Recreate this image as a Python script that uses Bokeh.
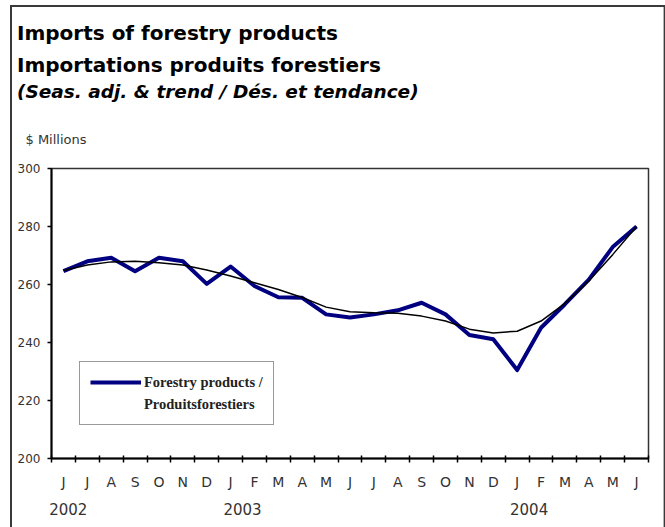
from bokeh.plotting import figure
from bokeh.models import Range1d, FixedTicker, LinearAxis, Legend, LegendItem, Title
from bokeh.embed import file_html
from bokeh.resources import INLINE

# ---- data ----
months = ["J", "J", "A", "S", "O", "N", "D", "J", "F", "M", "A", "M",
          "J", "J", "A", "S", "O", "N", "D", "J", "F", "M", "A", "M", "J"]
forestry = [264.6, 268.0, 269.2, 264.6, 269.2, 268.0, 260.2, 266.2, 259.5,
            255.6, 255.4, 249.7, 248.6, 249.7, 251.1, 253.7, 249.7, 242.6,
            241.1, 230.5, 245.1, 253.2, 261.7, 272.9, 280.0]
trend = [264.8, 266.7, 267.8, 268.0, 267.5, 266.7, 265.0, 262.9, 260.6,
         258.3, 255.5, 252.2, 250.6, 250.3, 250.1, 249.1, 247.4, 244.6,
         243.3, 243.9, 247.4, 253.5, 261.2, 270.3, 280.0]
years = ["2002", "2003", "2004"]
year_pos = [0.2, 7.5, 19.5]
y_ticks = [200, 220, 240, 260, 280, 300]

idx = list(range(len(months)))
n = len(months)

W, H = 652, 520
p = figure(width=W, height=H, output_backend="svg", toolbar_location=None,
           x_range=Range1d(-0.5, n - 0.5), y_range=Range1d(200, 300),
           x_axis_type=None, y_axis_type=None,
           min_border_left=39, min_border_right=16,
           min_border_top=0, min_border_bottom=69)
p.styles = {"margin-top": "7px", "margin-left": "12px",
            "border-right": "1px solid #b4b4b4",
            "outline": "2px solid #3a3a3a", "outline-offset": "0px"}
p.background_fill_color = "white"
p.border_fill_color = "white"
p.outline_line_color = "#333333"
p.outline_line_width = 1.5

# axes
ya = LinearAxis(ticker=FixedTicker(ticks=y_ticks),
                axis_line_color="black", axis_line_width=2,
                major_tick_out=4, major_tick_in=0, major_tick_line_width=1.5,
                minor_tick_out=0, minor_tick_in=0,
                major_label_text_font="DejaVu Sans",
                major_label_text_font_size="12px",
                major_label_text_color="#333333",
                major_label_standoff=7)
p.add_layout(ya, "left")

xa = LinearAxis(ticker=FixedTicker(ticks=idx,
                                   minor_ticks=[i - 0.5 for i in range(n + 1)]),
                major_label_overrides={i: m for i, m in zip(idx, months)},
                axis_line_color="black", axis_line_width=2,
                major_tick_line_color=None, major_tick_out=0, major_tick_in=0,
                minor_tick_line_color="black", minor_tick_line_width=1.5,
                minor_tick_in=3, minor_tick_out=4,
                major_label_text_font="DejaVu Sans",
                major_label_text_font_size="14px",
                major_label_text_color="#333333",
                major_label_standoff=11)
p.add_layout(xa, "below")

yra = LinearAxis(ticker=FixedTicker(ticks=year_pos),
                 major_label_overrides={pos: y for pos, y in zip(year_pos, years)},
                 axis_line_color=None, major_tick_line_color=None,
                 minor_tick_line_color=None, major_tick_out=0, major_tick_in=0,
                 minor_tick_out=0, minor_tick_in=0,
                 major_label_text_font="DejaVu Sans",
                 major_label_text_font_size="15px",
                 major_label_text_color="#333333",
                 major_label_standoff=10)
p.add_layout(yra, "below")

# lines
main = p.line(idx, forestry, line_color="#000080", line_width=4, line_join="round")
p.line(idx, trend, line_color="black", line_width=1.5)
dummy = p.line([], [], line_alpha=0)

legend = Legend(items=[LegendItem(label="Forestry products /", renderers=[main]),
                       LegendItem(label="Produitsforestiers", renderers=[dummy])],
                location=(28, 33), margin=0, padding=10, spacing=2,
                glyph_width=51, glyph_height=20, label_height=20,
                label_standoff=3,
                label_text_font="Liberation Serif", label_text_font_style="bold",
                label_text_font_size="14.5px", label_text_color="#222222",
                border_line_color="#333333", border_line_width=1,
                background_fill_color="white", background_fill_alpha=1)
p.add_layout(legend, "center")

# title block: stacked from the frame upwards
heads = [
    ("$ Millions", "13px", "normal", -26, 40.9, "#333333"),
    ("(Seas. adj. & trend / Dés. et tendance)", "18.5px", "bold italic", -34.5, 15.3, "black"),
    ("Importations produits forestiers", "20px", "bold", -34.5, -11.1, "black"),
    ("Imports of forestry products", "20px", "bold", -34.5, 23.7, "black"),
]
for txt, size, style, off, so, col in heads:
    p.add_layout(Title(text=txt, text_font="DejaVu Sans", text_font_size=size,
                       text_font_style=style, text_color=col, align="left",
                       vertical_align="middle", offset=off, standoff=so), "above")

open("out.html", "w").write(file_html(p, INLINE))
